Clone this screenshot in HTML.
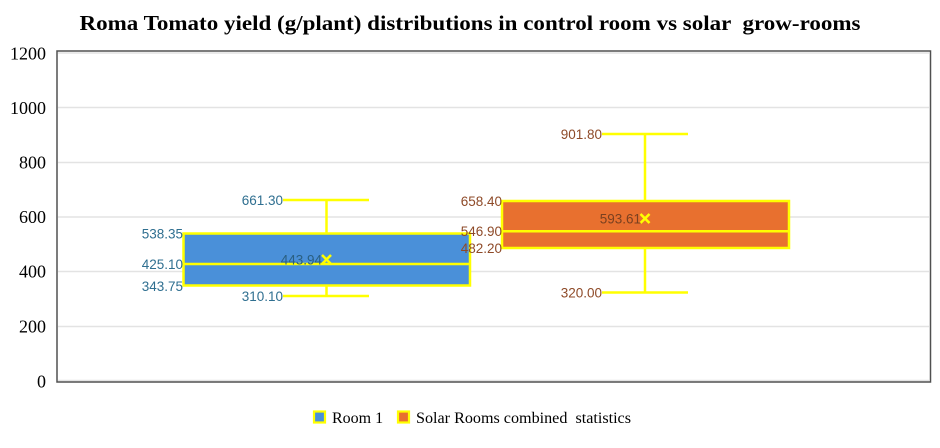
<!DOCTYPE html>
<html>
<head>
<meta charset="utf-8">
<style>
  html, body { margin:0; padding:0; background:#fff; }
  body { width:940px; height:448px; overflow:hidden; }
  svg { display:block; }
  .t { font-family:"Liberation Serif", serif; }
  .d { font-family:"Liberation Sans", sans-serif; font-size:13.5px; }
</style>
</head>
<body>
<svg width="940" height="448" viewBox="0 0 940 448" xmlns="http://www.w3.org/2000/svg">
  <rect x="0" y="0" width="940" height="448" fill="#fff"/>
  <!-- Title -->
  <text class="t" x="470" y="30" text-anchor="middle" font-size="21" font-weight="bold" fill="#000" textLength="781" lengthAdjust="spacingAndGlyphs" xml:space="preserve">Roma Tomato yield (g/plant) distributions in control room vs solar  grow-rooms</text>

  <!-- gridlines -->
  <g stroke="#e3e3e3" stroke-width="1.5">
    <line x1="58" y1="107.5" x2="929" y2="107.5"/>
    <line x1="58" y1="162.5" x2="929" y2="162.5"/>
    <line x1="58" y1="217" x2="929" y2="217"/>
    <line x1="58" y1="271.5" x2="929" y2="271.5"/>
    <line x1="58" y1="326.5" x2="929" y2="326.5"/>
    <line x1="58" y1="53" x2="929" y2="53"/>
    <line x1="58" y1="380.5" x2="929" y2="380.5"/>
  </g>
  <!-- frame -->
  <rect x="57" y="51" width="873.5" height="331" fill="none" stroke="#505050" stroke-width="1.5"/>

  <!-- Y tick labels -->
  <g class="t" font-size="18" fill="#000" text-anchor="end">
    <text x="46" y="59.5">1200</text>
    <text x="46" y="114">1000</text>
    <text x="46" y="168.5">800</text>
    <text x="46" y="223">600</text>
    <text x="46" y="277.5">400</text>
    <text x="46" y="332.5">200</text>
    <text x="46" y="387.5">0</text>
  </g>

  <!-- Box 1 -->
  <g stroke="#ffff00" stroke-width="2.5" fill="none">
    <line x1="326.5" y1="200" x2="326.5" y2="233.5"/>
    <line x1="283" y1="200" x2="369" y2="200"/>
    <line x1="326.5" y1="285.5" x2="326.5" y2="296"/>
    <line x1="283" y1="296" x2="369" y2="296"/>
  </g>
  <rect x="183.5" y="233.5" width="286.5" height="52" fill="#4a90d9" stroke="#ffff00" stroke-width="2.5"/>
  <line x1="183.5" y1="264" x2="470" y2="264" stroke="#ffff00" stroke-width="2.5"/>
  <g stroke="#ffff00" stroke-width="2.6">
    <line x1="322" y1="255" x2="331" y2="264"/>
    <line x1="331" y1="255" x2="322" y2="264"/>
  </g>
  <g class="d" fill="#2f6f90" text-anchor="end">
    <text x="283" y="204.8">661.30</text>
    <text x="183" y="238.3">538.35</text>
    <text x="183" y="268.8">425.10</text>
    <text x="183" y="291">343.75</text>
    <text x="283" y="300.8">310.10</text>
    <text x="322" y="264.3" fill="#2a5f80">443.94</text>
  </g>

  <!-- Box 2 -->
  <g stroke="#ffff00" stroke-width="2.5" fill="none">
    <line x1="645" y1="134" x2="645" y2="201"/>
    <line x1="602" y1="134" x2="688" y2="134"/>
    <line x1="645" y1="248" x2="645" y2="292.5"/>
    <line x1="602" y1="292.5" x2="688" y2="292.5"/>
  </g>
  <rect x="502" y="201" width="287" height="47" fill="#e8702f" stroke="#ffff00" stroke-width="2.5"/>
  <line x1="502" y1="231.2" x2="789" y2="231.2" stroke="#ffff00" stroke-width="2.5"/>
  <g stroke="#ffff00" stroke-width="2.6">
    <line x1="640.5" y1="214" x2="649.5" y2="223"/>
    <line x1="649.5" y1="214" x2="640.5" y2="223"/>
  </g>
  <g class="d" fill="#8e4a28" text-anchor="end">
    <text x="602" y="138.8">901.80</text>
    <text x="502" y="205.8">658.40</text>
    <text x="502" y="236">546.90</text>
    <text x="502" y="252.8">482.20</text>
    <text x="641" y="223.3" fill="#7a4020">593.61</text>
    <text x="602" y="297.3">320.00</text>
  </g>

  <!-- Legend -->
  <rect x="314" y="411.5" width="11" height="11" fill="#4a90d9" stroke="#ffff00" stroke-width="2.2"/>
  <text class="t" x="332" y="423" font-size="16" fill="#000">Room 1</text>
  <rect x="398" y="411.5" width="11" height="11" fill="#e8702f" stroke="#ffff00" stroke-width="2.2"/>
  <text class="t" x="416" y="423" font-size="16" fill="#000" textLength="215" lengthAdjust="spacingAndGlyphs" xml:space="preserve">Solar Rooms combined  statistics</text>
</svg>
</body>
</html>
